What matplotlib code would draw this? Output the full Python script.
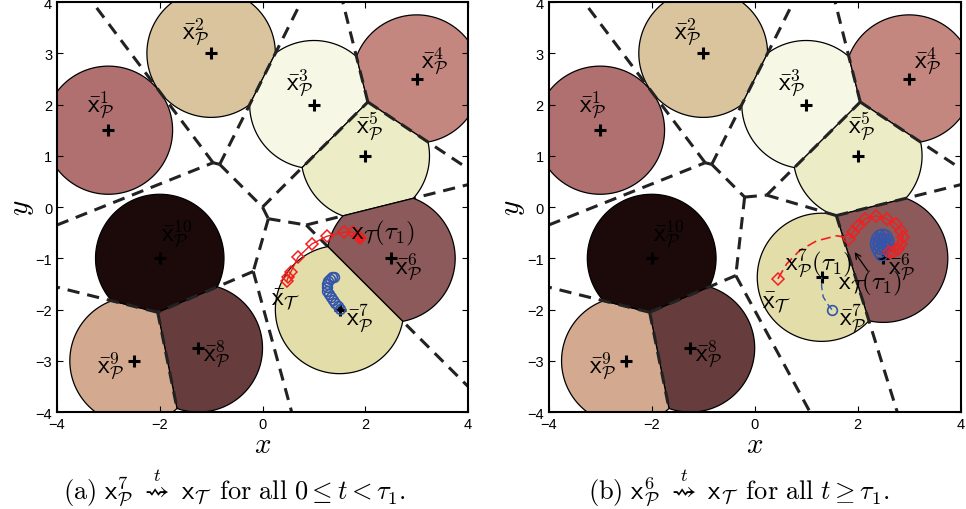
import numpy as np
import matplotlib
matplotlib.use("Agg")
import matplotlib.pyplot as plt
from matplotlib.patches import Polygon

plt.rcParams['mathtext.fontset'] = 'cm'
plt.rcParams['font.family'] = ['Liberation Sans', 'DejaVu Sans']

# nominal robot positions (centres of the disks)
site_x = [-3.0, -1.0, 1.0, 3.0, 2.0, 2.5, 1.5, -1.25, -2.5, -2.0]
site_y = [1.5, 3.0, 2.0, 2.5, 1.0, -1.0, -2.0, -2.75, -3.0, -1.0]
site_ids = [1, 2, 3, 4, 5, 6, 7, 8, 9, 10]
disk_colors = ['#b07070', '#d9c49e', '#f7f7e5', '#c48780', '#ececc7',
               '#8c5a5a', '#e3ddaa', '#673c3c', '#d3aa8f', '#1c0a0a']
radius = 1.25

# robot 7 position at tau_1 (panel b)
r7_tau_x, r7_tau_y = 1.3, -1.37

# label positions for the nominal points
lab_x = [-3.15, -1.3, 0.72, 3.35, 2.08, 2.85, 1.9, -0.9, -2.96, -1.67]
lab_y = [2.0, 3.43, 2.43, 2.87, 1.6, -1.15, -2.15, -2.86, -3.08, -0.5]

# panel a: target trajectory (red) and robot 7 trajectory (blue)
tgt_a_x = [0.47, 0.50, 0.55, 0.69, 0.96, 1.25, 1.58, 1.76, 1.86, 1.9]
tgt_a_y = [-1.45, -1.37, -1.27, -0.98, -0.72, -0.57, -0.49, -0.49, -0.57, -0.6]
r7_a_x = [1.51, 1.47, 1.42, 1.37, 1.33, 1.29, 1.26, 1.25, 1.26, 1.28, 1.31, 1.35, 1.40]
r7_a_y = [-1.98, -1.93, -1.88, -1.82, -1.76, -1.70, -1.63, -1.56, -1.50, -1.45, -1.40, -1.37, -1.36]

# panel b: target path before tau_1 (dashed) and after (diamonds)
tgt_b_past_x = [0.45, 0.62, 0.87, 1.2, 1.59, 1.84]
tgt_b_past_y = [-1.40, -1.11, -0.85, -0.66, -0.56, -0.60]
tgt_b_x = [1.84, 1.91, 2.01, 2.14, 2.36, 2.56, 2.75, 2.85, 2.88, 2.85, 2.78, 2.68, 2.6]
tgt_b_y = [-0.62, -0.49, -0.36, -0.23, -0.17, -0.23, -0.33, -0.46, -0.59, -0.72, -0.82, -0.87, -0.87]
r6_b_x = [2.45, 2.42, 2.38, 2.36, 2.37, 2.41, 2.47, 2.53, 2.56, 2.56, 2.52, 2.46, 2.42, 2.42, 2.46, 2.51, 2.52, 2.49]
r6_b_y = [-0.92, -0.85, -0.78, -0.70, -0.62, -0.56, -0.54, -0.57, -0.64, -0.72, -0.78, -0.79, -0.74, -0.67, -0.62, -0.64, -0.70, -0.74]
r7_b_x = [1.5, 1.42, 1.33, 1.3, 1.3]
r7_b_y = [-2.0, -1.9, -1.75, -1.55, -1.37]


def clip_halfplane(poly, a, b):
    # keep points with a . p <= b
    out = []
    n = len(poly)
    for i in range(n):
        p, q = poly[i], poly[(i + 1) % n]
        fp, fq = a @ p - b, a @ q - b
        if fp <= 0:
            out.append(p)
        if fp * fq < 0:
            t = fp / (fp - fq)
            out.append(p + t * (q - p))
    return out


def voronoi_edges(pts, lo=-4.0, hi=4.0):
    edges = []
    n = len(pts)
    for i in range(n):
        for j in range(i + 1, n):
            ci, cj = pts[i], pts[j]
            d = cj - ci
            m = (ci + cj) / 2
            u = np.array([-d[1], d[0]]) / np.hypot(*d)
            tmin, tmax = -100.0, 100.0
            cons = []
            for k in range(n):
                if k in (i, j):
                    continue
                ck = pts[k]
                a = 2 * (ck - ci)
                cons.append((a, ck @ ck - ci @ ci))
            for ax_ in range(2):
                e = np.zeros(2); e[ax_] = 1
                cons.append((e, hi))
                cons.append((-e, -lo))
            ok = True
            for a, b in cons:
                au = a @ u
                bb = b - a @ m
                if abs(au) < 1e-12:
                    if bb < 0:
                        ok = False
                    continue
                if au > 0:
                    tmax = min(tmax, bb / au)
                else:
                    tmin = max(tmin, bb / au)
            if ok and tmax > tmin:
                edges.append((i, j, m + tmin * u, m + tmax * u))
    return edges


def cell_disk(pts, i, r):
    th = np.linspace(0, 2 * np.pi, 300, endpoint=False)
    poly = [pts[i] + r * np.array([np.cos(t), np.sin(t)]) for t in th]
    for k in range(len(pts)):
        if k == i:
            continue
        a = 2 * (pts[k] - pts[i])
        poly = clip_halfplane(poly, a, pts[k] @ pts[k] - pts[i] @ pts[i])
    return np.array(poly)


def draw_panel(ax, pts, under_pairs):
    for i in range(len(pts)):
        poly = cell_disk(pts, i, radius)
        ax.add_patch(Polygon(poly, closed=True, facecolor=disk_colors[i],
                             edgecolor='black', lw=0.9, zorder=1))
    for i, j, p, q in voronoi_edges(pts):
        # some edges sit under the disks in panel a
        z = 0.5 if (i, j) in under_pairs else 2
        ax.plot([p[0], q[0]], [p[1], q[1]], color='#222222', lw=2.2,
                ls=(0, (4, 2.6)), zorder=z)
    ax.set_xlim(-4, 4)
    ax.set_ylim(-4, 4)
    ax.set_xticks([-4, -2, 0, 2, 4])
    ax.set_yticks([-4, -3, -2, -1, 0, 1, 2, 3, 4])
    ax.tick_params(direction='in', top=True, right=True, length=4, labelsize=10.5)
    for s in ax.spines.values():
        s.set_linewidth(1.5)
    ax.set_xlabel(r'$x$', fontsize=21, labelpad=-1)
    ax.set_ylabel(r'$y$', fontsize=21, labelpad=0)


def nominal_labels(ax):
    for k in range(10):
        ax.text(lab_x[k], lab_y[k],
                r'$\bar{\mathsf{x}}_{\mathcal{P}}^{%d}$' % site_ids[k],
                fontsize=18, ha='center', va='center', zorder=6)


fig = plt.figure(figsize=(9.66, 5.10), dpi=100)
ax_a = fig.add_axes([0.059, 0.190, 0.4255, 0.804])
ax_b = fig.add_axes([0.568, 0.190, 0.4265, 0.804])

pts_a = np.column_stack([site_x, site_y])
pts_b = pts_a.copy()
pts_b[6] = [r7_tau_x, r7_tau_y]

red = '#f02020'
blue = '#3355aa'

# ---- panel a
draw_panel(ax_a, pts_a, under_pairs={(4, 5), (5, 6)})
ax_a.plot(site_x, site_y, '+', color='black', ms=8, mew=2.2, zorder=4)
ax_a.plot(r7_a_x, r7_a_y, 'o', mfc='none', mec=blue, ms=7, mew=1.2, zorder=5)
ax_a.plot(r7_a_x[0], r7_a_y[0], 'o', color='black', ms=3, zorder=5)
ax_a.plot(tgt_a_x, tgt_a_y, '-', color=red, lw=1, zorder=5)
ax_a.plot(tgt_a_x, tgt_a_y, 'D', mfc='none', mec=red, ms=6, mew=1.1, zorder=5)
ax_a.plot(tgt_a_x[-1], tgt_a_y[-1], 'o', color=red, ms=5, zorder=5)
nominal_labels(ax_a)
ax_a.text(0.45, -1.8, r'$\bar{\mathsf{x}}_{\mathcal{T}}$', fontsize=18,
          ha='center', va='center', zorder=6)
ax_a.text(1.72, -0.5, r'$\mathsf{x}_{\mathcal{T}}(\tau_1)$', fontsize=18,
          ha='left', va='center', zorder=6)

# ---- panel b
draw_panel(ax_b, pts_b, under_pairs=set())
cross_x = site_x[:6] + [r7_tau_x] + site_x[7:]
cross_y = site_y[:6] + [r7_tau_y] + site_y[7:]
ax_b.plot(cross_x, cross_y, '+', color='black', ms=8, mew=2.2, zorder=4)
ax_b.plot(r7_b_x, r7_b_y, '--', color=blue, lw=1, dashes=(5, 3), zorder=5)
ax_b.plot(r7_b_x[0], r7_b_y[0], 'o', mfc='none', mec=blue, ms=7, mew=1.2, zorder=5)
ax_b.plot(r6_b_x, r6_b_y, 'o', mfc='none', mec=blue, ms=9, mew=1.0, zorder=5)
ax_b.plot(tgt_b_past_x, tgt_b_past_y, '-', color=red, lw=1.2, dashes=(6, 3), zorder=5)
ax_b.plot(tgt_b_past_x[0], tgt_b_past_y[0], 'D', mfc='none', mec=red, ms=6, mew=1.1, zorder=5)
ax_b.plot(tgt_b_x, tgt_b_y, '-', color=red, lw=1, zorder=5)
ax_b.plot(tgt_b_x, tgt_b_y, 'D', mfc='none', mec=red, ms=6, mew=1.1, zorder=5)
nominal_labels(ax_b)
ax_b.text(0.42, -1.85, r'$\bar{\mathsf{x}}_{\mathcal{T}}$', fontsize=18,
          ha='center', va='center', zorder=6)
ax_b.text(1.24, -1.08, r'$\mathsf{x}_{\mathcal{P}}^{7}(\tau_1)$', fontsize=18,
          ha='center', va='center', zorder=6)
ax_b.text(2.23, -1.47, r'$\mathsf{x}_{\mathcal{T}}(\tau_1)$', fontsize=18,
          ha='center', va='center', zorder=6)
ax_b.annotate('', xy=(1.94, -0.88), xytext=(2.2, -1.25),
              arrowprops=dict(arrowstyle='->', color='black', lw=0.9,
                              shrinkA=0, shrinkB=0), zorder=6)

fig.text(0.243, 0.043,
         r'$\mathrm{(a)}\ \mathsf{x}_{\mathcal{P}}^{7}\ \overset{t}{\leadsto}\ \mathsf{x}_{\mathcal{T}}'
         r'\;\;\mathrm{for\ all}\ 0 \leq t < \tau_1.$',
         fontsize=19, ha='center', va='center')
fig.text(0.765, 0.043,
         r'$\mathrm{(b)}\ \mathsf{x}_{\mathcal{P}}^{6}\ \overset{t}{\leadsto}\ \mathsf{x}_{\mathcal{T}}'
         r'\;\;\mathrm{for\ all}\ t \geq \tau_1.$',
         fontsize=19, ha='center', va='center')

fig.savefig('out.png', dpi=100)
